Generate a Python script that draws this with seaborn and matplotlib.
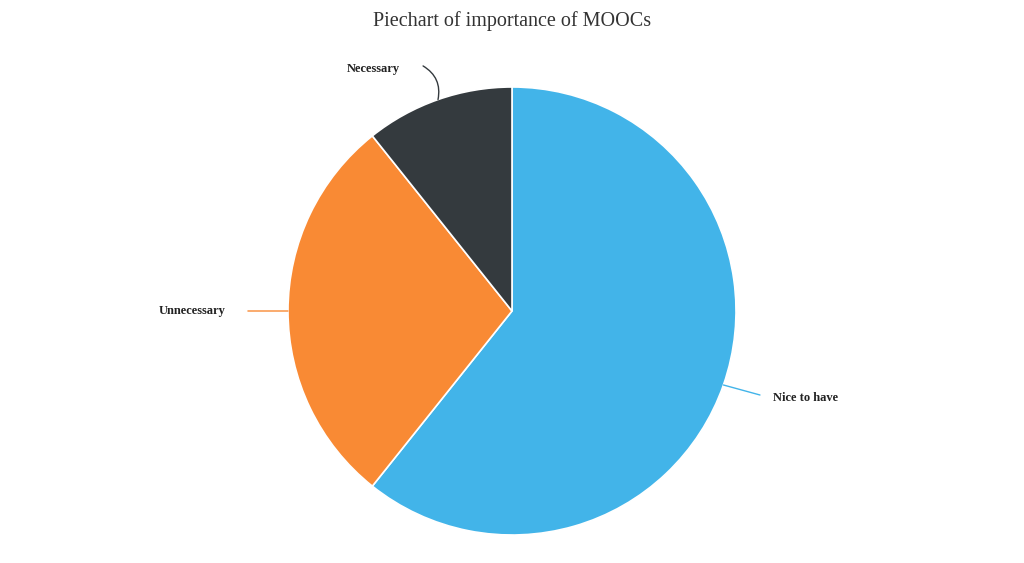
import numpy as np
import matplotlib
matplotlib.use("Agg")
import matplotlib.pyplot as plt
import seaborn as sns

categories = ["Nice to have", "Unnecessary", "Necessary"]
values = [17, 8, 3]
colors = ["#42B4E9", "#F98A34", "#343A3E"]

sns.set_theme(style="white")
plt.rcParams['font.family'] = ['Liberation Serif', 'DejaVu Serif']

fig = plt.figure(figsize=(10.24, 5.63), dpi=100)
ax = fig.add_axes([0, 0, 1, 1])
R = 224.0

wedges, _ = ax.pie(values, colors=colors, startangle=90, counterclock=False,
                   radius=1.0, center=(0, 0),
                   wedgeprops=dict(edgecolor='white', linewidth=1.2))
ax.set_xlim(-512 / R, 512 / R)
ax.set_ylim(-252 / R, 311 / R)
ax.set_aspect('equal')
ax.axis('off')

# label offsets (leader end, text pos, alignment, curvature)
layout = {
    "Nice to have": ((1.107, -0.375), (1.165, -0.388), 'left', 0.0),
    "Unnecessary": ((-1.179, 0.0), (-1.277, 0.0), 'right', 0.0),
    "Necessary": ((-0.397, 1.094), (-0.50, 1.08), 'right', -0.35),
}
for w, cat, col in zip(wedges, categories, colors):
    mid = np.deg2rad((w.theta1 + w.theta2) / 2)
    x0, y0 = np.cos(mid), np.sin(mid)
    (lx, ly), (tx, ty), ha, rad = layout[cat]
    ax.annotate("", xy=(x0, y0), xytext=(lx, ly),
                arrowprops=dict(arrowstyle='-', color=col, lw=1.0,
                                shrinkA=0, shrinkB=0,
                                connectionstyle=f"arc3,rad={rad}"))
    ax.text(tx, ty, cat, ha=ha, va='center', fontsize=9, fontweight='bold',
            color='#222222')

fig.text(0.5, 1 - 21 / 563, "Piechart of importance of MOOCs", ha='center',
         va='center', fontsize=14.5, color='#333333')

fig.savefig("out.png", dpi=100, facecolor='white')
